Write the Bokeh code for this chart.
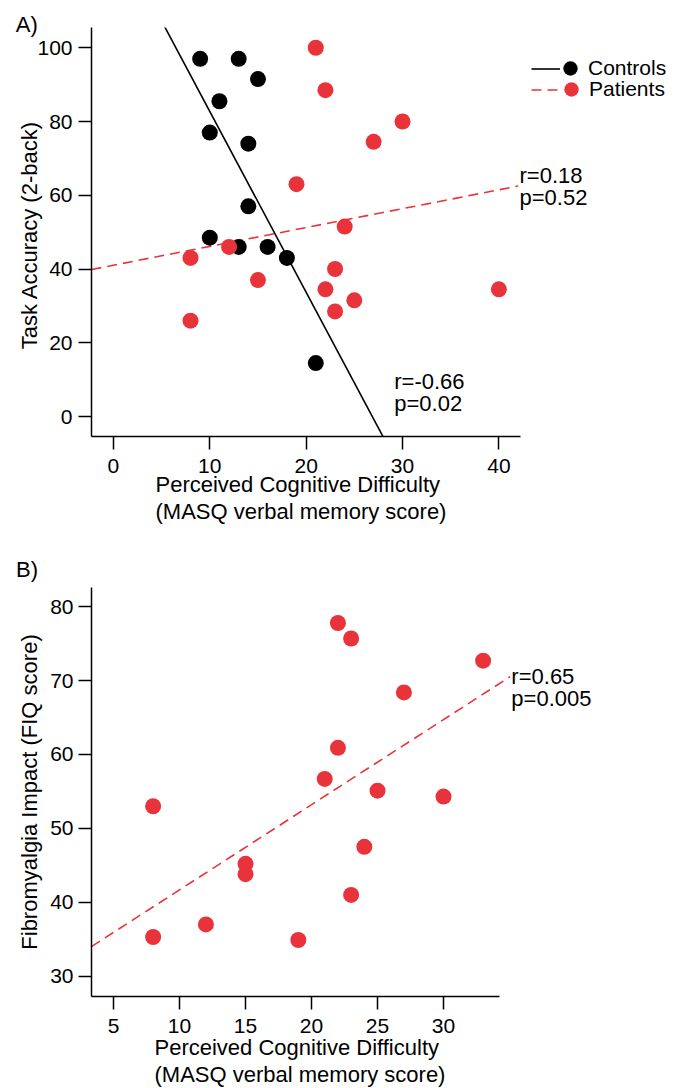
import numpy as np
from bokeh.plotting import figure
from bokeh.models import Range1d, FixedTicker, Label, Legend, LegendItem, Title
from bokeh.layouts import column
from bokeh.embed import file_html
from bokeh.resources import INLINE

# ---------------- data ----------------
controls_x = [9, 13, 15, 11, 10, 14, 14, 10, 13, 16, 18, 21]
controls_y = [97, 97, 91.5, 85.5, 77, 74, 57, 48.5, 46, 46, 43, 14.5]
patients_x = [21, 22, 27, 30, 19, 24, 12, 8, 15, 8, 23, 22, 23, 25, 40]
patients_y = [100, 88.5, 74.5, 80, 63, 51.5, 46, 43, 37, 26, 40, 34.5, 28.5, 31.5, 34.5]
fiq_x = [22, 23, 33, 27, 22, 21, 8, 25, 30, 15, 15, 8, 12, 19, 24, 23]
fiq_y = [77.8, 75.7, 72.7, 68.4, 60.9, 56.7, 53.0, 55.1, 54.3, 45.2, 43.8, 35.3, 37.0, 34.9, 47.5, 41.0]

xticks_a = [0, 10, 20, 30, 40]
yticks_a = [0, 20, 40, 60, 80, 100]
xticks_b = [5, 10, 15, 20, 25, 30]
yticks_b = [30, 40, 50, 60, 70, 80]

stats_controls = "r=-0.66\np=0.02"
stats_patients = "r=0.18\np=0.52"
stats_fiq = "r=0.65\np=0.005"

FONT = "Liberation Sans"
RED = "#E8333A"
TITLE_X = "Perceived Cognitive Difficulty\n(MASQ verbal memory score)"


def fit_line(xs, ys, x0, x1):
    k, b = np.polyfit(np.array(xs, float), np.array(ys, float), 1)
    xx = np.array([x0, x1])
    return xx, k * xx + b


def style(p, xb, yb, xt, yt, lab_sx, lab_sy, ax_sy):
    p.outline_line_color = None
    p.grid.visible = False
    p.background_fill_color = "white"
    p.border_fill_color = "white"
    p.xaxis.bounds = xb
    p.yaxis.bounds = yb
    p.xaxis.ticker = FixedTicker(ticks=xt)
    p.yaxis.ticker = FixedTicker(ticks=yt)
    for ax in (p.xaxis, p.yaxis):
        ax.axis_line_width = 1.5
        ax.axis_line_color = "black"
        ax.major_tick_line_width = 1.5
        ax.major_tick_line_color = "black"
        ax.major_tick_out = 13
        ax.major_tick_in = 0
        ax.minor_tick_line_color = None
        ax.major_label_text_font = FONT
        ax.major_label_text_font_size = "21px"
        ax.major_label_text_color = "black"
        ax.axis_label_text_font = FONT
        ax.axis_label_text_font_size = "22px"
        ax.axis_label_text_font_style = "normal"
        ax.axis_label_text_color = "black"
    p.xaxis.major_label_standoff = lab_sx
    p.yaxis.major_label_standoff = lab_sy
    p.yaxis.axis_label_standoff = ax_sy


def panel_title(p, text, offset, standoff):
    p.title.text = text
    p.title.align = "left"
    p.title.offset = offset
    p.title.standoff = standoff
    p.title.text_font = FONT
    p.title.text_font_size = "22px"
    p.title.text_font_style = "normal"
    p.title.text_color = "black"


def x_title(p, offset, standoff):
    p.add_layout(Title(text=TITLE_X, align="left", offset=offset, standoff=standoff,
                       vertical_align="bottom", text_font=FONT, text_font_size="22px",
                       text_font_style="normal", text_color="black",
                       text_line_height=1.06), "below")


def stat_label(x, y, text):
    return Label(x=x, y=y, text=text, text_baseline="top", text_align="left",
                 text_font=FONT, text_font_size="22px", text_line_height=0.88,
                 text_color="black")


def legend_box(items, loc, gw, gh, font_size):
    return Legend(items=items, location=loc, orientation="vertical",
                  glyph_width=gw, glyph_height=gh, spacing=0, label_standoff=0,
                  label_width=0, label_height=gh, padding=0, margin=0,
                  border_line_color=None, background_fill_alpha=0,
                  label_text_font=FONT, label_text_font_size=font_size,
                  label_text_color="black")


# ---------------- panel A ----------------
xa0, xa1 = -2.275, 42.2
ya0, ya1 = -5.42, 105.5
pa = figure(width=681, height=540, output_backend="svg", toolbar_location=None,
            x_range=Range1d(xa0, 58.95), y_range=Range1d(ya0, ya1),
            min_border_left=89, min_border_right=0, min_border_top=27, min_border_bottom=104)
style(pa, (xa0, xa1), (ya0, ya1), xticks_a, yticks_a, 9, 6, -8)
pa.yaxis.axis_label = "Task Accuracy  (2-back)"
panel_title(pa, "A)", -75.7, -19)
x_title(pa, 64, -12)

lx, ly = fit_line(controls_x, controls_y, xa0, xa1)
r_cl = pa.line(lx, ly, line_color="black", line_width=1.6)
lx, ly = fit_line(patients_x, patients_y, xa0, 42.0)
r_pl = pa.line(lx, ly, line_color=RED, line_width=1.6, line_dash="10 6")
r_cs = pa.scatter(controls_x, controls_y, size=16, fill_color="black", line_color=None)
r_ps = pa.scatter(patients_x, patients_y, size=16, fill_color=RED, line_color=None)

# legend: line keys in one box, marker + label rows in two boxes
pa.add_layout(legend_box([LegendItem(label="", renderers=[r_cl]),
                          LegendItem(label="", renderers=[r_pl])],
                         (440, 336), 29, 21, "1px"))
pa.add_layout(legend_box([LegendItem(label="Controls", renderers=[r_cs])],
                         (461, 350), 36, 36, "21px"))
pa.add_layout(legend_box([LegendItem(label="Patients", renderers=[r_ps])],
                         (462, 329), 36, 36, "21px"))

pa.add_layout(stat_label(42.14, 68.8, stats_patients))
pa.add_layout(stat_label(29.14, 12.9, stats_controls))

# ---------------- panel B ----------------
xb0, xb1 = 3.33, 34.24
yb0, yb1 = 27.25, 82.6
pb = figure(width=681, height=548, output_backend="svg", toolbar_location=None,
            x_range=Range1d(xb0, 48.03), y_range=Range1d(yb0, yb1),
            min_border_left=91, min_border_right=0, min_border_top=47, min_border_bottom=92)
style(pb, (xb0, xb1), (yb0, yb1), xticks_b, yticks_b, 9, 5, 5)
pb.yaxis.axis_label = "Fibromyalgia Impact (FIQ score)"
panel_title(pb, "B)", -75.4, 11)
x_title(pb, 63, -6)

lx, ly = fit_line(fiq_x, fiq_y, xb0, 35.05)
pb.line(lx, ly, line_color=RED, line_width=1.6, line_dash="10 6")
pb.scatter(fiq_x, fiq_y, size=16, fill_color=RED, line_color=None)

pb.add_layout(stat_label(35.14, 72.3, stats_fiq))

layout = column(pa, pb, spacing=0)
open("out.html", "w").write(file_html(layout, INLINE))
